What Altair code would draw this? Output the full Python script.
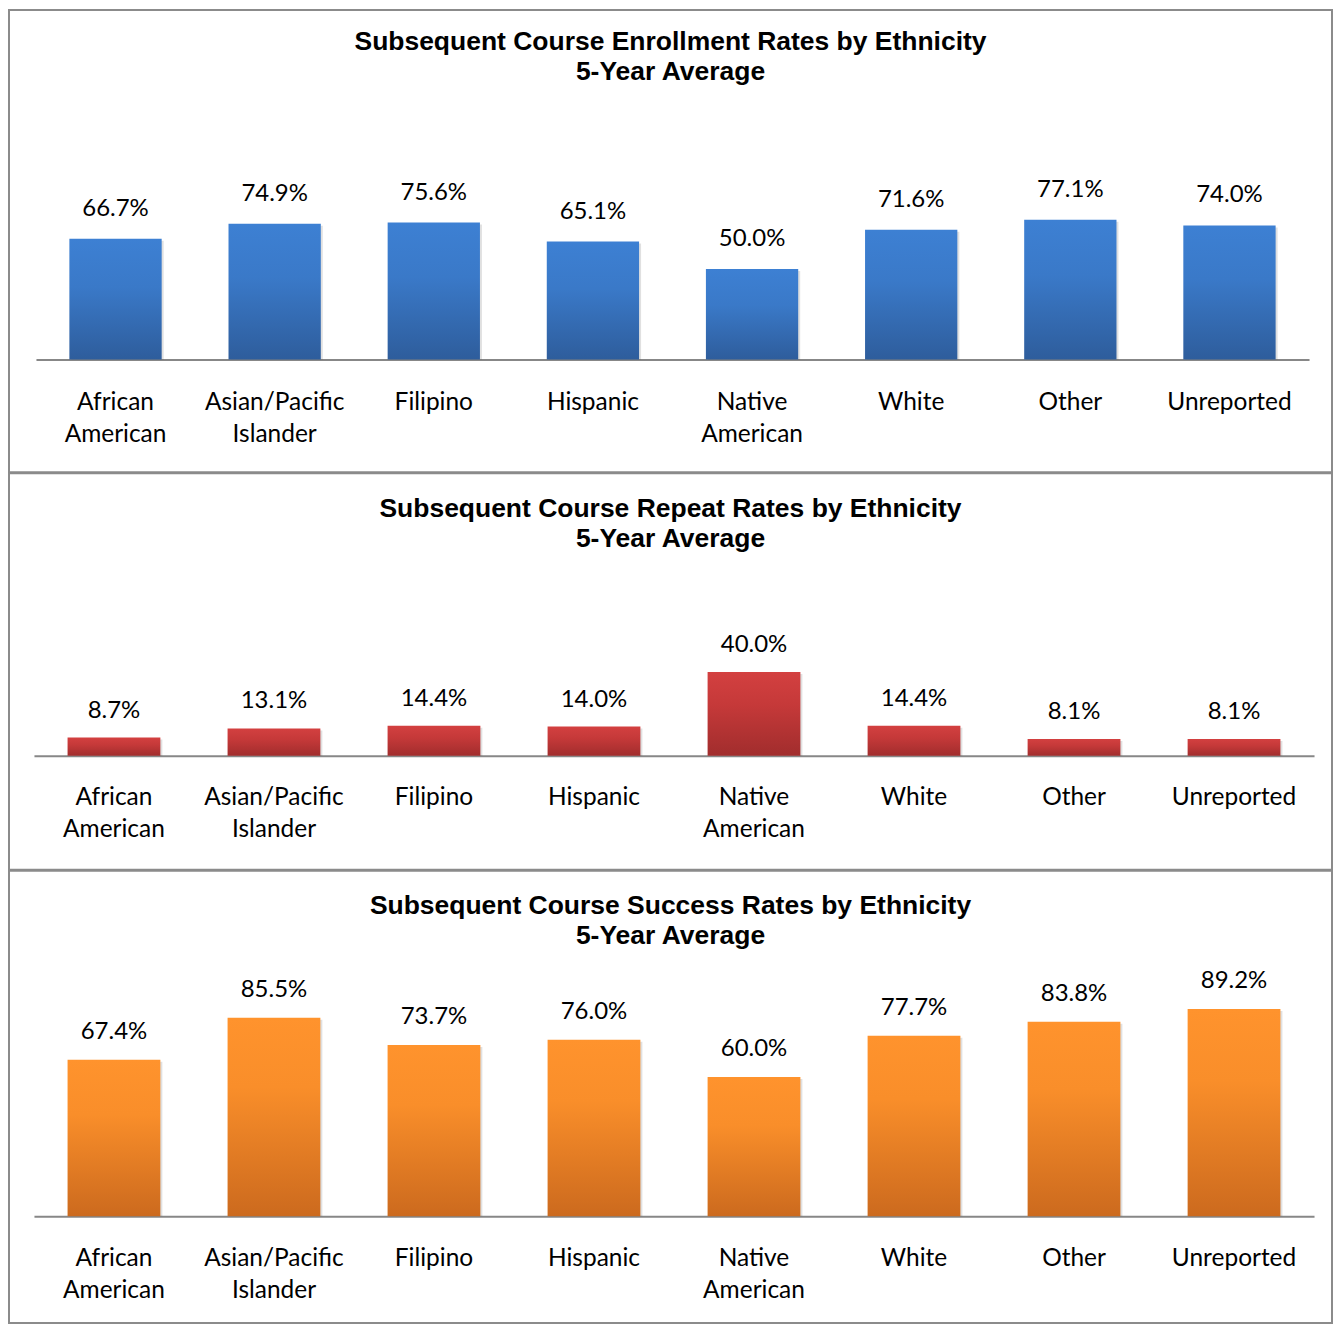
import altair as alt
import pandas as pd

categories = ["African American", "Asian/Pacific Islander", "Filipino", "Hispanic",
              "Native American", "White", "Other", "Unreported"]
enrollment = [66.7, 74.9, 75.6, 65.1, 50.0, 71.6, 77.1, 74.0]
repeat_rates = [8.7, 13.1, 14.4, 14.0, 40.0, 14.4, 8.1, 8.1]
success = [67.4, 85.5, 73.7, 76.0, 60.0, 77.7, 83.8, 89.2]

titles = ["Subsequent Course Enrollment Rates by Ethnicity",
          "Subsequent Course Repeat Rates by Ethnicity",
          "Subsequent Course Success Rates by Ethnicity"]
subtitle = "5-Year Average"

blue_stops = [("#3D80D3", 0), ("#3A79C8", 0.4), ("#2E5D9C", 1)]
red_stops = [("#D34040", 0), ("#C53939", 0.4), ("#A12D2D", 1)]
orange_stops = [("#FF932D", 0), ("#F98E2A", 0.35), ("#CC6A1E", 1)]

W = 1325
LABEL_FONT = "Lato"


def panel(values, title, stops, height, baseline, ppp, x_range, title_offset,
          label_dy, line_height, label_pad):
    df = pd.DataFrame({"cat": categories, "value": values})
    lo = -(height - baseline) / ppp
    hi = baseline / ppp
    x = alt.X(
        "cat:N", sort=categories,
        scale=alt.Scale(range=x_range, paddingInner=0.42, paddingOuter=0.21),
        axis=alt.Axis(title=None, orient="bottom", offset=-(height - baseline),
                      domainColor="#878787", domainWidth=2, ticks=False, tickSize=0,
                      labelPadding=label_pad, labelFont=LABEL_FONT, labelFontSize=24.5,
                      labelColor="#000000", labelLineHeight=32, labelAngle=0,
                      labelOverlap=False,
                      labelExpr="split(datum.label, ' ')"),
    )
    y = alt.Y("value:Q", scale=alt.Scale(domain=[lo, hi], nice=False, zero=False), axis=None)
    base = alt.Chart(df).encode(x=x, y=y, y2=alt.datum(0))
    grad = alt.Gradient(
        gradient="linear",
        stops=[alt.GradientStop(color=c, offset=o) for c, o in stops],
        x1=0, x2=0, y1=0, y2=1,
    )
    shadow = base.mark_bar(color="#000000", opacity=0.12, xOffset=2, yOffset=2)
    bars = base.mark_bar(color=grad)
    labels = alt.Chart(df).transform_calculate(
        label="format(datum.value, '.1f') + '%'"
    ).mark_text(baseline="middle", dy=-label_dy, font=LABEL_FONT, fontSize=24,
                color="#000000").encode(x=x, y=y, text="label:N")
    return alt.layer(shadow, bars, labels).properties(
        width=W, height=height,
        title=alt.TitleParams(text=[title, subtitle], font="Liberation Sans",
                              fontSize=26.5, fontWeight="bold", color="#000000",
                              lineHeight=line_height, anchor="middle", frame="group",
                              offset=title_offset),
    )


p1 = panel(enrollment, titles[0], blue_stops, 463, 350, 1.814, [27, 1302], -76, 30, 30.5, 31)
p2 = panel(repeat_rates, titles[1], red_stops, 397, 283, 2.1, [25, 1307], -79, 27, 30, 30)
p3 = panel(success, titles[2], orange_stops, 453, 346, 2.325, [25, 1307], -79, 28, 30, 30)

chart = alt.vconcat(p1, p2, p3, spacing=-2).resolve_scale(
    x="independent", y="independent"
).resolve_axis(x="independent").properties(padding=0).configure_view(
    stroke="#8b8b8b", strokeWidth=2
)

chart.save("out.html", embed_options={"renderer": "svg", "actions": False})
